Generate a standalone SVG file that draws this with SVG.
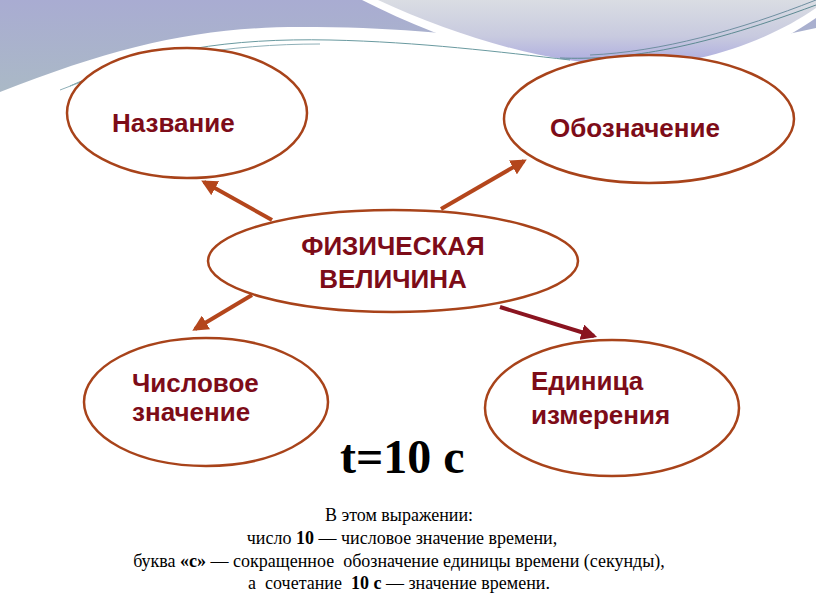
<svg xmlns="http://www.w3.org/2000/svg" width="816" height="613" viewBox="0 0 816 613">
<defs>
<linearGradient id="bandL" x1="0" y1="0" x2="0" y2="1">
<stop offset="0" stop-color="#a9acd2"/>
<stop offset="1" stop-color="#aab9c6"/>
</linearGradient>
<linearGradient id="bandR" x1="0" y1="0" x2="0" y2="1">
<stop offset="0" stop-color="#dadde3"/>
<stop offset="0.55" stop-color="#c8cadf"/>
<stop offset="1" stop-color="#aaa9e0"/>
</linearGradient>
<marker id="ah" viewBox="0 0 10 10" refX="8" refY="5" markerWidth="4" markerHeight="4" orient="auto" markerUnits="strokeWidth">
<path d="M0,0 L10,5 L0,10 Z" fill="#b4461c"/>
</marker>
<marker id="ah2" viewBox="0 0 10 10" refX="8" refY="5" markerWidth="4" markerHeight="4" orient="auto" markerUnits="strokeWidth">
<path d="M0,0 L10,5 L0,10 Z" fill="#8a1420"/>
</marker>
</defs>
<style>
.ell{fill:#ffffff;stroke:#a8431a;stroke-width:2.5}
.lbl{font-family:"Liberation Sans",Arial,sans-serif;font-weight:bold;font-size:26px;fill:#7d0c18}
.arr{stroke:#b4461c;stroke-width:4;fill:none}
.arr2{stroke:#8a1420;stroke-width:4;fill:none}
.note{font-family:"Liberation Serif","Times New Roman",serif;font-size:18px;fill:#000;text-anchor:middle}
</style>
<rect width="816" height="613" fill="#ffffff"/>
<g id="background">
<path d="M0,0 H816 V28 C760,40 700,52 640,57 C600,58 580,56 560,52 C500,38 420,27 300,27 C200,27 120,45 0,92 Z" fill="url(#bandL)"/>
<path d="M362,0 C440,40 540,72 630,78 C700,80 770,50 816,18 V0 Z" fill="#ffffff"/>
<path d="M378,0 C460,38 550,64 630,66 C700,66 770,40 816,8 V0 Z" fill="url(#bandR)"/>
<path d="M560,58 C620,60 690,52 816,5" stroke="#5d8a92" stroke-width="1" fill="none"/>
<path d="M590,55 C660,52 740,30 816,0" stroke="#6f8fa0" stroke-width="1" fill="none"/>
<path d="M70,86 C150,50 230,38 330,40 C420,42 500,52 570,60" stroke="#6a9aa0" stroke-width="1" fill="none"/>
<path d="M60,90 C140,58 230,44 320,44" stroke="#8fb0b8" stroke-width="1" fill="none"/>
</g>
<g id="connectors">
<line class="arr" x1="272" y1="220" x2="204" y2="182" marker-end="url(#ah)"/>
<line class="arr" x1="441" y1="209" x2="524" y2="161" marker-end="url(#ah)"/>
<line class="arr" x1="252" y1="295" x2="195" y2="329" marker-end="url(#ah)"/>
<line class="arr2" x1="500" y1="307" x2="594" y2="336" marker-end="url(#ah2)"/>
</g>
<g id="node-nazvanie">
<ellipse class="ell" cx="187" cy="113" rx="120" ry="65"/>
<text class="lbl" x="112" y="132">Название</text>
</g>
<g id="node-oboznachenie">
<ellipse class="ell" cx="649" cy="119" rx="145" ry="64"/>
<text class="lbl" x="550" y="137">Обозначение</text>
</g>
<g id="node-fiz">
<ellipse class="ell" cx="393" cy="261" rx="185" ry="51"/>
<text class="lbl" x="393" y="255" text-anchor="middle">ФИЗИЧЕСКАЯ</text>
<text class="lbl" x="393" y="288" text-anchor="middle">ВЕЛИЧИНА</text>
</g>
<g id="node-chislo">
<ellipse class="ell" cx="206" cy="402" rx="122" ry="64"/>
<text class="lbl" x="132" y="392">Числовое</text>
<text class="lbl" x="132" y="421">значение</text>
</g>
<g id="node-edinica">
<ellipse class="ell" cx="612" cy="408" rx="127" ry="68"/>
<text class="lbl" x="531" y="390">Единица</text>
<text class="lbl" x="531" y="424">измерения</text>
</g>
<g id="formula">
<text x="340" y="473" font-family="Liberation Serif,serif" font-weight="bold" font-size="48" fill="#000">t=10 с</text>
</g>
<g id="notes">
<text class="note" x="399" y="521">В этом выражении:</text>
<text class="note" x="402" y="544">число <tspan font-weight="bold">10</tspan> — числовое значение времени,</text>
<text class="note" x="399" y="567" xml:space="preserve">буква <tspan font-weight="bold">«с»</tspan> — сокращенное  обозначение единицы времени (секунды),</text>
<text class="note" x="399" y="589" xml:space="preserve">а  сочетание  <tspan font-weight="bold">10 с</tspan> — значение времени.</text>
</g>
</svg>
